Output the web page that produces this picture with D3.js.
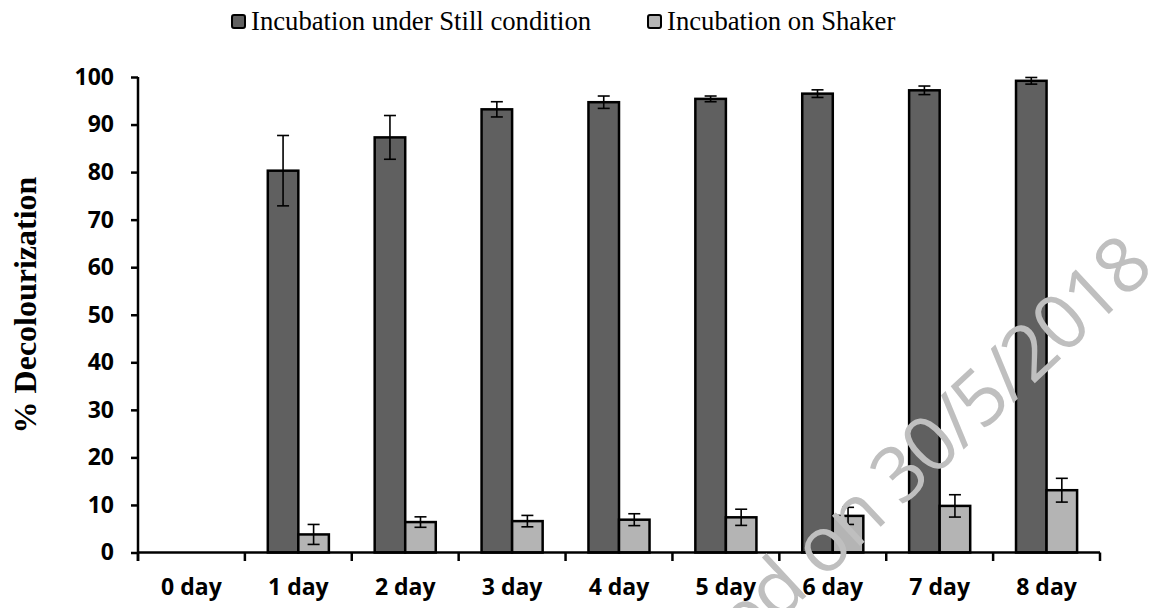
<!DOCTYPE html>
<html>
<head>
<meta charset="utf-8">
<script src="https://cdn.jsdelivr.net/npm/d3@7"></script>
<style>
  body { margin: 0; background: #fff; }
  svg { display: block; }
</style>
</head>
<body>
<svg id="chart"></svg>
<script>
// data
const categories = ["0 day", "1 day", "2 day", "3 day", "4 day", "5 day", "6 day", "7 day", "8 day"];
const seriesNames = ["Incubation under Still condition", "Incubation on Shaker"];
const still = [0, 80.3, 87.3, 93.2, 94.7, 95.4, 96.5, 97.2, 99.2];
const stillErr = [0, 7.4, 4.6, 1.6, 1.3, 0.6, 0.8, 0.9, 0.7];
const shaker = [0, 3.8, 6.4, 6.6, 6.9, 7.4, 7.7, 9.8, 13.1];
const shakerErr = [0, 2.1, 1.1, 1.2, 1.25, 1.7, 1.8, 2.35, 2.5];
const yTicks = [0, 10, 20, 30, 40, 50, 60, 70, 80, 90, 100];

const W = 1150, H = 608;
const colors = ["#606060", "#b4b4b4"];
const tickFont = "'Open Sans', sans-serif";

const svg = d3.select("#chart").attr("width", W).attr("height", H);

// scales
const x = d3.scaleBand().domain(categories).range([138, 1100]).padding(0);
const y = d3.scaleLinear().domain([0, 100]).range([552.5, 77]);
const barW = x.bandwidth() / 3.5; // Excel gap width 150%

const series = [
  { name: seriesNames[0], values: still, errs: stillErr },
  { name: seriesNames[1], values: shaker, errs: shakerErr }
];

// bars
series.forEach((s, si) => {
  const data = categories.map((c, i) => ({ c, v: s.values[i], e: s.errs[i] })).filter(d => d.v > 0);
  const bx = d => x(d.c) + x.bandwidth() / 2 - barW + si * barW;

  svg.append("g").selectAll("rect")
    .data(data).join("rect")
    .attr("x", bx)
    .attr("y", d => y(d.v))
    .attr("width", barW)
    .attr("height", d => y(0) - y(d.v))
    .attr("fill", colors[si])
    .attr("stroke", "#000")
    .attr("stroke-width", 2.5);

  // error bars
  const eg = svg.append("g").attr("stroke", "#000").attr("stroke-width", 1.6);
  data.forEach(d => {
    const cx = bx(d) + barW / 2;
    eg.append("line").attr("x1", cx).attr("x2", cx).attr("y1", y(d.v + d.e)).attr("y2", y(d.v - d.e));
    [d.v + d.e, d.v - d.e].forEach(v => {
      eg.append("line").attr("x1", cx - 6).attr("x2", cx + 6).attr("y1", y(v)).attr("y2", y(v));
    });
  });
});

// y axis
const yAxis = svg.append("g")
  .attr("transform", "translate(138,0)")
  .call(d3.axisLeft(y).tickValues(yTicks).tickSize(7).tickPadding(17));
yAxis.select(".domain").attr("d", `M0,${y(100)}V${y(0) + 8.5}`).attr("stroke-width", 2.5);
yAxis.selectAll(".tick line").attr("stroke-width", 2.5);
yAxis.selectAll(".tick text")
  .style("font-family", tickFont).style("font-weight", "bold").style("font-size", "23px").attr("fill", "#000");

// x axis (ticks between categories, labels in the middle)
const xg = svg.append("g");
xg.append("line")
  .attr("x1", 138).attr("x2", 1100).attr("y1", y(0)).attr("y2", y(0))
  .attr("stroke", "#000").attr("stroke-width", 2.5);
const bounds = categories.map(c => x(c)).concat([x.range()[1]]);
xg.selectAll("line.tk").data(bounds).join("line")
  .attr("class", "tk")
  .attr("x1", d => d).attr("x2", d => d)
  .attr("y1", y(0)).attr("y2", y(0) + 8.5)
  .attr("stroke", "#000").attr("stroke-width", 2.5);
xg.selectAll("text").data(categories).join("text")
  .attr("x", d => x(d) + x.bandwidth() / 2)
  .attr("y", 595)
  .attr("text-anchor", "middle")
  .style("font-family", tickFont).style("font-weight", "bold").style("font-size", "23px")
  .text(d => d);

// y axis title
svg.append("text")
  .attr("transform", "translate(36,305) rotate(-90)")
  .attr("text-anchor", "middle")
  .style("font-family", "'Liberation Serif', serif").style("font-weight", "bold").style("font-size", "32px")
  .text("% Decolourization");

// legend
const legX = [231, 647];
series.forEach((s, si) => {
  svg.append("rect")
    .attr("x", legX[si] + 1).attr("y", 15).attr("width", 13).attr("height", 13)
    .attr("rx", 2)
    .attr("fill", colors[si]).attr("stroke", "#000").attr("stroke-width", 2);
  svg.append("text")
    .attr("x", legX[si] + 20).attr("y", 30)
    .style("font-family", "'Liberation Serif', serif").style("font-size", "26.7px")
    .text(s.name);
});

// watermark stamp over the plot
svg.append("text")
  .attr("transform", "translate(1155,271) rotate(-43)")
  .attr("text-anchor", "end")
  .attr("fill", "#bfbfbf")
  .style("font-family", "'Open Sans', sans-serif").style("font-size", "77px")
  .style("letter-spacing", "-2px")
  .text("Accepted on 30/5/2018");
</script>
</body>
</html>
